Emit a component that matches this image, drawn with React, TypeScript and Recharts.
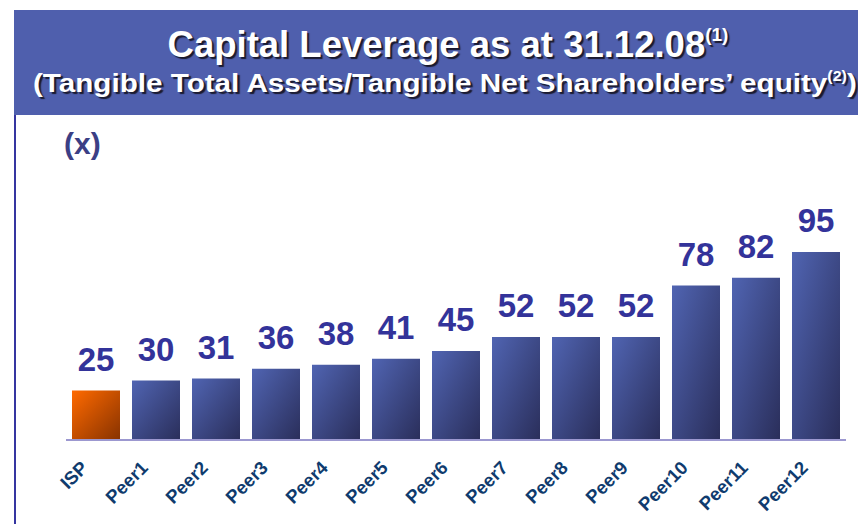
import React from 'react';
import { BarChart, Bar, XAxis, YAxis, LabelList, Cell } from 'recharts';

// 자본 레버리지 (x) - 31.12.08 기준
const banks = ['ISP', 'Peer1', 'Peer2', 'Peer3', 'Peer4', 'Peer5', 'Peer6', 'Peer7', 'Peer8', 'Peer9', 'Peer10', 'Peer11', 'Peer12'];
const leverage = [25, 30, 31, 36, 38, 41, 45, 52, 52, 52, 78, 82, 95];
const yTicks = [0, 100];

const chartData = banks.map((name, i) => ({ name, value: leverage[i] }));

const W = 858;
const H = 524;

// 기울어진 x축 라벨
const SlantTick = (props: any) => {
  const { x, y, payload } = props;
  return (
    <text
      transform={`translate(${x - 7},${y + 21}) rotate(-45)`}
      textAnchor="end"
      fill="#0f3b6e"
      fontSize={18.5}
      fontWeight="bold"
      fontFamily="Liberation Sans, Arial, sans-serif"
    >
      {payload.value}
    </text>
  );
};

const titleShadow = '2px 2px 1px #1a1a2e';

export default function App() {
  return (
    <div style={{ position: 'absolute', left: 0, top: 0, width: W, height: H, background: '#fff', fontFamily: 'Liberation Sans, Arial, sans-serif', overflow: 'hidden' }}>
      {/* 상단 배너 */}
      <div style={{ position: 'absolute', left: 14, top: 10, width: W - 14, height: 105, background: '#4f5fad' }} />
      <div style={{ position: 'absolute', left: 14, top: 24, width: W - 14, textAlign: 'center', color: '#fff', fontWeight: 'bold', fontSize: 36.5, lineHeight: '42px', textShadow: titleShadow, whiteSpace: 'nowrap' }}>
        <span style={{ position: 'relative', left: 12 }}>
          Capital Leverage as at 31.12.08<sup style={{ fontSize: 19, verticalAlign: 'top', lineHeight: '22px' }}>(1)</sup>
        </span>
      </div>
      <div style={{ position: 'absolute', left: 24, top: 68, width: W - 14, textAlign: 'center', color: '#fff', fontWeight: 'bold', fontSize: 26, lineHeight: '30px', textShadow: titleShadow, whiteSpace: 'nowrap', transform: 'scaleX(1.14)', transformOrigin: '430px 0' }}>
        (Tangible Total Assets/Tangible Net Shareholders’ equity<sup style={{ fontSize: 14, verticalAlign: 'top', lineHeight: '16px' }}>(2)</sup>)
      </div>
      {/* 왼쪽 세로선 */}
      <div style={{ position: 'absolute', left: 14, top: 115, width: 2, height: H - 115, background: '#3535a0' }} />
      <div style={{ position: 'absolute', left: 64, top: 126, color: '#3b3f85', fontWeight: 'bold', fontSize: 30, lineHeight: '36px' }}>(x)</div>

      <div style={{ position: 'absolute', left: 0, top: 0 }}>
        <BarChart width={W} height={H} data={chartData} margin={{ top: 242, right: 12, left: 66, bottom: 0 }}>
          <defs>
            <linearGradient id="gradBlue" x1="0" y1="0" x2="1" y2="1">
              <stop offset="0%" stopColor="#5064b2" />
              <stop offset="100%" stopColor="#2a2e5a" />
            </linearGradient>
            <linearGradient id="gradOrange" x1="0" y1="0" x2="1" y2="1">
              <stop offset="0%" stopColor="#ff6a00" />
              <stop offset="100%" stopColor="#873200" />
            </linearGradient>
          </defs>
          <XAxis
            dataKey="name"
            height={84}
            axisLine={{ stroke: '#9c98d0', strokeWidth: 2 }}
            tickLine={false}
            interval={0}
            tick={<SlantTick />}
          />
          <YAxis hide domain={[0, 100]} ticks={yTicks} />
          <Bar dataKey="value" barSize={48} isAnimationActive={false}>
            {chartData.map((d, i) => (
              <Cell key={d.name} fill={i === 0 ? 'url(#gradOrange)' : 'url(#gradBlue)'} />
            ))}
            <LabelList
              dataKey="value"
              position="top"
              offset={20}
              fill="#33339a"
              fontSize={33}
              fontWeight="bold"
              fontFamily="Liberation Sans, Arial, sans-serif"
            />
          </Bar>
        </BarChart>
      </div>
    </div>
  );
}
